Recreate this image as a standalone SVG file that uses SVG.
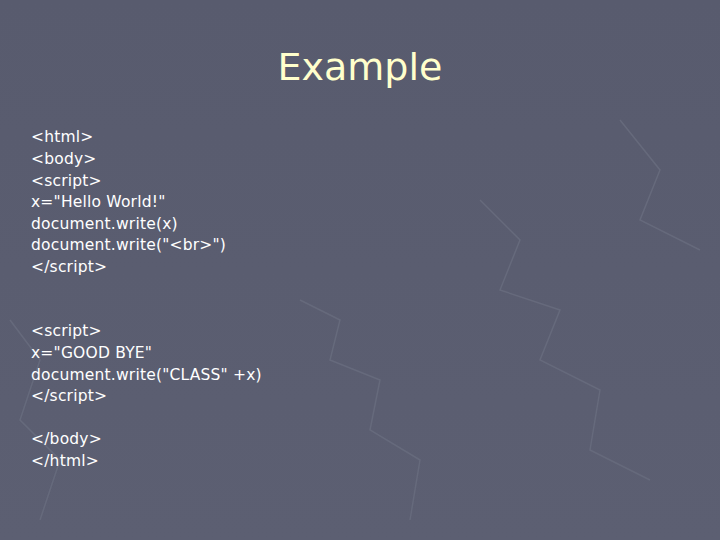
<svg xmlns="http://www.w3.org/2000/svg" width="720" height="540" viewBox="0 0 720 540">
<defs>
<linearGradient id="bg" x1="0" y1="0" x2="0" y2="1">
<stop offset="0" stop-color="#585b6e"/>
<stop offset="1" stop-color="#5c5f72"/>
</linearGradient>
<style>
.c{font-family:"DejaVu Sans","Liberation Sans",sans-serif;font-size:15.5px;fill:#ffffff;letter-spacing:0.2px}
.p{fill:none;stroke:#666a7c;stroke-width:1.5}
</style>
</defs>
<rect width="720" height="540" fill="url(#bg)"/>
<path class="p" d="M300 300 L340 320 L330 360 L380 380 L370 430 L420 460 L410 520 M480 200 L520 240 L500 290 L560 310 L540 360 L600 390 L590 450 L650 480 M620 120 L660 170 L640 220 L700 250 M10 320 L40 360 L20 420 L60 460 L40 520"/>
<text x="360" y="80" text-anchor="middle" font-family="'DejaVu Sans','Liberation Sans',sans-serif" font-size="38" fill="#ffffcc">Example</text>
<g class="c">
<text x="31" y="142">&lt;html&gt;</text>
<text x="31" y="164">&lt;body&gt;</text>
<text x="31" y="186">&lt;script&gt;</text>
<text x="31" y="207">x="Hello World!"</text>
<text x="31" y="229">document.write(x)</text>
<text x="31" y="250">document.write("&lt;br&gt;")</text>
<text x="31" y="272">&lt;/script&gt;</text>
<text x="31" y="336">&lt;script&gt;</text>
<text x="31" y="358">x="GOOD BYE"</text>
<text x="31" y="380">document.write("CLASS" +x)</text>
<text x="31" y="401">&lt;/script&gt;</text>
<text x="31" y="444">&lt;/body&gt;</text>
<text x="31" y="466">&lt;/html&gt;</text>
</g>
</svg>
